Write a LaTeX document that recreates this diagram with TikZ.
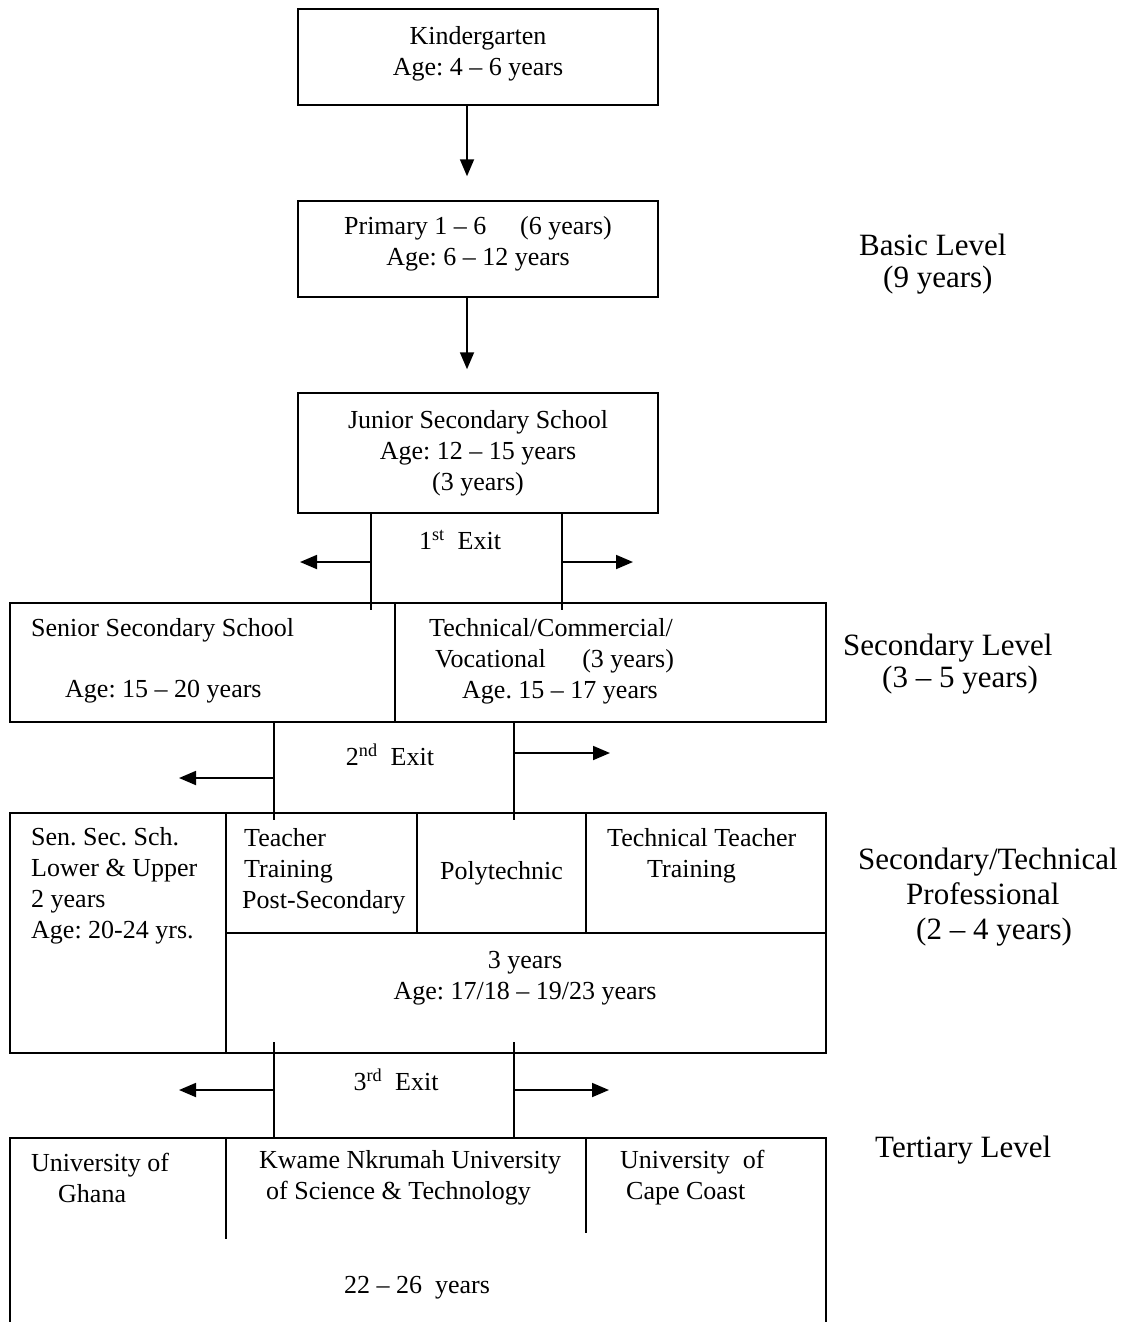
\documentclass[tikz,border=0pt]{standalone}
\usepackage{fontspec}
\setmainfont{Liberation Serif}
\usetikzlibrary{positioning,arrows.meta}
\frenchspacing

\begin{document}
\begin{tikzpicture}[
x=1pt,y=-1pt,
font=\fontsize{26}{31}\selectfont,
box/.style={draw,line width=1.5pt,inner sep=0pt,align=center},
txt/.style={inner sep=0pt,align=left,anchor=west},
mid/.style={inner sep=0pt,align=center},
level/.style={inner sep=0pt,align=left,anchor=west,font=\fontsize{31}{32}\selectfont},
flow/.style={line width=1.8pt,-{Triangle[length=17pt,width=14pt]}},
exitline/.style={line width=1.5pt},
]
\useasboundingbox (0,0) rectangle (1133,1322);

% basic level
\node[box,minimum width=360,minimum height=96,text depth=13pt] (kinder) at (478,57) {Kindergarten\\Age: 4 – 6 years};
\node[box,minimum width=360,minimum height=96,text depth=16pt] (primary) at (478,249) {Primary 1 – 6\hspace{1.3em}(6 years)\\Age: 6 – 12 years};
\node[box,minimum width=360,minimum height=120] (jss) at (478,453) {Junior Secondary School\\Age: 12 – 15 years\\(3 years)};
\draw[flow,shorten >=24pt] ([xshift=-11pt]kinder.south) -- ([xshift=-11pt]kinder.south |- primary.north);
\draw[flow,shorten >=23pt] ([xshift=-11pt]primary.south) -- ([xshift=-11pt]primary.south |- jss.north);
\node[level] (basic) at (859,264.5) {Basic Level\\\hspace*{24pt}(9 years)};

% 1st exit
\coordinate (x1l) at (371,610);
\coordinate (x1r) at (562,610);
\coordinate (a1l) at (300,562);
\coordinate (a1r) at (633,562);
\draw[exitline] (jss.south -| x1l) -- (x1l);
\draw[exitline] (jss.south -| x1r) -- (x1r);
\draw[flow] (a1l -| x1l) -- (a1l);
\draw[flow] (a1r -| x1r) -- (a1r);
\node[mid] (exit1) at (460,540) {1\textsuperscript{st}\hspace{0.5em}Exit};

% secondary level
\node[box,minimum width=385,minimum height=119] (sss) at (202.5,662.5) {};
\node[box,minimum width=431,minimum height=119] (tech) at (610.5,662.5) {};
\node[txt] (ssstxt) at (31,630) {Senior Secondary School};
\node[txt] (sssage) at (65,692) {Age: 15 – 20 years};
\node[txt] (techtxt) at (429,661) {Technical/Commercial/\\\hspace*{6pt}Vocational\hspace{1.4em}(3 years)\\\hspace*{33pt}Age. 15 – 17 years};
\node[level] (seclevel) at (843,664) {Secondary Level\\\hspace*{39pt}(3 – 5 years)};

% 2nd exit
\coordinate (x2l) at (274,820);
\coordinate (x2r) at (514,820);
\coordinate (a2l) at (179,778);
\coordinate (a2r) at (610,753);
\draw[exitline] (sss.south -| x2l) -- (x2l);
\draw[exitline] (tech.south -| x2r) -- (x2r);
\draw[flow] (a2l -| x2l) -- (a2l);
\draw[flow] (a2r -| x2r) -- (a2r);
\node[mid] (exit2) at (390,755) {2\textsuperscript{nd}\hspace{0.5em}Exit};

% secondary/technical
\node[box,minimum width=216,minimum height=240] (sss3) at (118,933) {};
\node[box,minimum width=191,minimum height=120] (teach) at (321.5,873) {};
\node[box,minimum width=169,minimum height=120] (poly) at (501.5,873) {Polytechnic};
\node[box,minimum width=240,minimum height=120] (ttt) at (706,873) {};
\node[box,minimum width=600,minimum height=120] (three) at (526,993) {};
\node[txt] (sss3txt) at (31,886) {Sen. Sec. Sch.\\Lower \& Upper\\2 years\\Age: 20-24 yrs.};
\node[txt] (teachtxt) at (242,871) {\hspace*{2pt}Teacher\\\hspace*{2pt}Training\\Post-Secondary};
\node[txt] (ttttxt) at (607,855.5) {Technical Teacher\\\hspace*{40pt}Training};
\node[mid] (threetxt) at (525,978) {3 years\\Age: 17/18 – 19/23 years};
\node[level,font=\fontsize{31}{35}\selectfont] (sectech) at (858,897) {Secondary/Technical\\\hspace*{48pt}Professional\\\hspace*{58pt}(2 – 4 years)};

% tertiary level
\node[minimum width=816,minimum height=184,inner sep=0pt] (tert) at (418,1230) {};
\draw[line width=1.5pt] (tert.south west) |- (tert.north east) -- (tert.south east);
\coordinate (x3l) at (274,1042);
\coordinate (x3r) at (514,1042);
\coordinate (a3l) at (179,1090);
\coordinate (a3r) at (609,1090);
\draw[exitline] (x3l) -- (x3l |- tert.north);
\draw[exitline] (x3r) -- (x3r |- tert.north);
\draw[flow] (a3l -| x3l) -- (a3l);
\draw[flow] (a3r -| x3r) -- (a3r);
\node[mid] (exit3) at (396,1080) {3\textsuperscript{rd}\hspace{0.5em}Exit};
\coordinate (d1) at (226,1239);
\coordinate (d2) at (586,1233);
\draw[exitline] (d1 |- tert.north) -- (d1);
\draw[exitline] (d2 |- tert.north) -- (d2);
\node[txt] (ug) at (31,1178) {University of\\\hspace*{27pt}Ghana};
\node[txt] (knust) at (259,1178) {Kwame Nkrumah University\\\hspace*{7pt}of Science \& Technology};
\node[txt] (ucc) at (620,1178) {University\ \ of\\\hspace*{6pt}Cape Coast};
\node[mid] (tertage) at (417,1288) {22 – 26\ \ years};
\node[level] (tertlevel) at (875,1150) {Tertiary Level};
\end{tikzpicture}
\end{document}
